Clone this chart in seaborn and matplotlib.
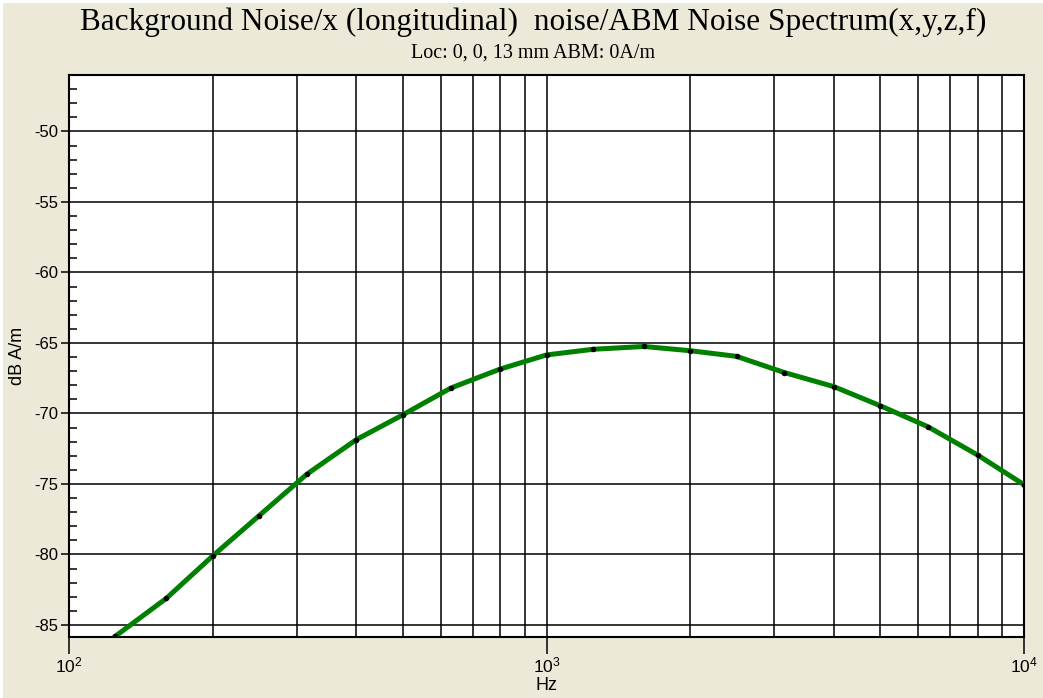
import matplotlib
matplotlib.use("Agg")
import matplotlib.pyplot as plt
import seaborn as sns
import pandas as pd
from matplotlib.ticker import MultipleLocator, LogLocator, NullFormatter
from matplotlib.patches import Rectangle

# Data (1/3-octave bands)
freq_hz = [125, 160, 200, 250, 315, 400, 500, 630, 800, 1000, 1250, 1600,
           2000, 2500, 3150, 4000, 5000, 6300, 8000, 10000]
noise_db = [-85.8, -83.1, -80.1, -77.25, -74.3, -71.85, -70.1, -68.2, -66.85,
            -65.85, -65.45, -65.25, -65.55, -65.95, -67.1, -68.1, -69.45,
            -70.95, -72.95, -75.05]

title_text = "Background Noise/x (longitudinal)  noise/ABM Noise Spectrum(x,y,z,f)"
subtitle_text = "Loc: 0, 0, 13 mm ABM: 0A/m"
x_label = "Hz"
y_label = "dB A/m"
y_major_ticks = [-50, -55, -60, -65, -70, -75, -80, -85]

plt.rcParams["axes.unicode_minus"] = False
plt.rcParams["font.family"] = ["Liberation Sans", "DejaVu Sans"]

df = pd.DataFrame({"freq": freq_hz, "db": noise_db})

bg = "#ECE9D8"
W, H = 1043, 698
fig = plt.figure(figsize=(W / 100, H / 100), dpi=100, facecolor=bg)
# thin white edge at left and top, as in the reference window capture
fig.patches.append(Rectangle((0, 0), 3 / W, 1, transform=fig.transFigure,
                             facecolor="white", edgecolor="none", zorder=-10))
fig.patches.append(Rectangle((0, 1 - 3 / H), 1, 3 / H, transform=fig.transFigure,
                             facecolor="white", edgecolor="none", zorder=-10))
ax = fig.add_axes([69 / W, 1 - 637 / H, (1024 - 69) / W, (637 - 75) / H])
ax.set_facecolor("white")

sns.lineplot(data=df, x="freq", y="db", ax=ax, color="#008000", linewidth=3.6,
             marker="o", markersize=3.2, markerfacecolor="black",
             markeredgecolor="black", zorder=5)

ax.set_xscale("log")
ax.set_xlim(100, 10000)
ax.set_ylim(-85.85, -46.0)

ax.xaxis.set_major_locator(LogLocator(base=10, numticks=10))
ax.xaxis.set_minor_locator(LogLocator(base=10, subs=range(2, 10), numticks=20))
ax.xaxis.set_minor_formatter(NullFormatter())
ax.set_yticks(y_major_ticks)
ax.yaxis.set_minor_locator(MultipleLocator(1))

ax.grid(which="major", axis="both", color="black", linewidth=1.1)
ax.grid(which="minor", axis="x", color="black", linewidth=1.1)
ax.set_axisbelow(True)

ax.tick_params(axis="x", which="major", direction="out", length=12, width=1.1,
               labelsize=12.5, pad=1, colors="black")
ax.tick_params(axis="x", which="minor", length=0)
ax.tick_params(axis="y", which="major", direction="out", length=6, width=1.1,
               labelsize=12, pad=1.5)
ax.tick_params(axis="y", which="minor", direction="in", length=6, width=1.1)

for s in ax.spines.values():
    s.set_color("black")
    s.set_linewidth(1.5)

ax.set_xlabel(x_label, fontsize=13)
ax.set_ylabel(y_label, fontsize=13)
ax.xaxis.set_label_coords(0.5, (637 - 685) / (637 - 75))
ax.xaxis.label.set_va("center")
ax.yaxis.set_label_coords((17 - 69) / (1024 - 69), 0.5)
ax.yaxis.label.set_va("center")

fig.text(533 / W, 1 - 22 / H, title_text, ha="center", va="center",
         fontsize=22.5, family=["Liberation Serif", "DejaVu Serif"])
fig.text(533 / W, 1 - 53 / H, subtitle_text, ha="center", va="center",
         fontsize=14.5, family=["Liberation Serif", "DejaVu Serif"])

fig.savefig("out.png", dpi=100, facecolor=bg)
